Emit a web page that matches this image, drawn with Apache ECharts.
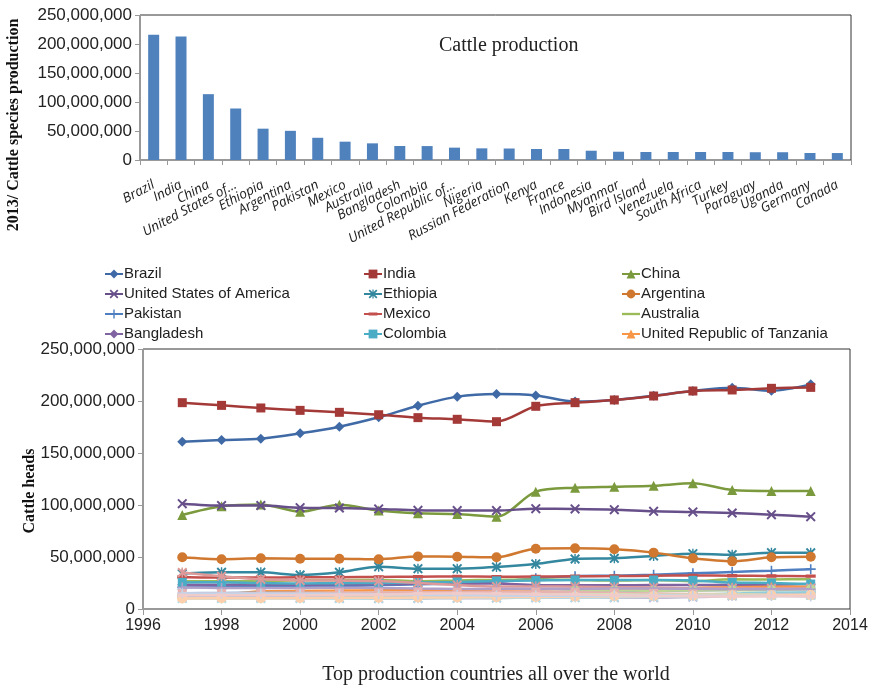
<!DOCTYPE html>
<html>
<head>
<meta charset="utf-8">
<script src="https://cdn.jsdelivr.net/npm/echarts@6/dist/echarts.min.js"></script>
<style>
  html, body { margin: 0; padding: 0; background: #fff; }
  #chart { width: 877px; height: 687px; }
</style>
</head>
<body>
<div id="chart"></div>
<script>
// ---- 2013 cattle stock by country (bar chart) ----
const barCategories = ['Brazil', 'India', 'China', 'United States of...', 'Ethiopia', 'Argentina',
  'Pakistan', 'Mexico', 'Australia', 'Bangladesh', 'Colombia', 'United Republic of...', 'Nigeria',
  'Russian Federation', 'Kenya', 'France', 'Indonesia', 'Myanmar', 'Bird Island', 'Venezuela',
  'South Africa', 'Turkey', 'Paraguay', 'Uganda', 'Germany', 'Canada'];
const production2013 = [216.0, 213.1, 113.5, 88.8, 54.0, 50.3, 38.3, 31.6, 28.7, 24.1, 24.0, 21.3, 20.1,
  19.8, 19.0, 19.0, 16.0, 14.3, 13.8, 13.8, 13.8, 13.8, 13.4, 13.4, 12.1, 12.0]; // million heads

// ---- yearly cattle heads, million (line chart) ----
const years = [1997, 1998, 1999, 2000, 2001, 2002, 2003, 2004, 2005, 2006, 2007, 2008, 2009, 2010, 2011, 2012, 2013];
const countryNames = ['Brazil', 'India', 'China', 'United States of America', 'Ethiopia', 'Argentina',
  'Pakistan', 'Mexico', 'Australia', 'Bangladesh', 'Colombia', 'United Republic of Tanzania', 'Nigeria',
  'Russian Federation', 'Kenya', 'France', 'Indonesia', 'Myanmar', 'Bird Island', 'Venezuela',
  'South Africa', 'Turkey', 'Paraguay', 'Uganda', 'Germany', 'Canada'];

const brazil      = [160.9, 162.5, 163.8, 168.9, 175.3, 184.3, 195.5, 204.2, 206.7, 205.4, 199.4, 201.0, 205.1, 209.6, 212.8, 209.9, 216.0];
const india       = [198.4, 195.8, 193.3, 191.0, 189.1, 186.8, 184.0, 182.4, 180.1, 194.9, 198.4, 201.0, 204.8, 209.6, 210.6, 212.2, 213.1];
const china       = [90.4, 98.7, 100.6, 93.6, 100.3, 94.6, 92.0, 91.3, 88.8, 112.8, 116.7, 117.6, 118.6, 120.8, 114.4, 113.5, 113.5];
const usa         = [101.3, 99.4, 99.4, 97.4, 97.1, 96.2, 94.9, 94.6, 94.6, 96.5, 96.2, 95.5, 93.9, 93.3, 92.3, 90.7, 88.8];
const ethiopia    = [33.9, 35.3, 35.3, 32.7, 35.3, 40.7, 38.8, 38.8, 40.4, 43.3, 48.1, 48.7, 51.0, 53.2, 52.2, 54.2, 54.0];
const argentina   = [49.7, 47.8, 48.7, 48.4, 48.4, 47.8, 50.6, 50.3, 49.7, 58.0, 58.3, 57.4, 54.2, 48.7, 45.8, 49.7, 50.3];
const pakistan    = [20.8, 21.6, 22.0, 22.4, 22.0, 23.0, 23.8, 24.2, 26.0, 29.6, 31.6, 32.0, 33.0, 34.3, 35.6, 36.8, 38.3];
const mexico      = [30.8, 30.2, 30.3, 30.5, 30.6, 30.8, 31.0, 31.3, 31.0, 31.2, 31.5, 31.7, 32.0, 32.2, 32.0, 31.8, 31.6];
const australia   = [26.8, 26.6, 26.6, 27.6, 27.7, 27.9, 26.7, 27.5, 28.0, 28.4, 28.0, 27.3, 27.9, 26.7, 28.5, 28.4, 28.7];
const bangladesh  = [23.2, 23.4, 23.6, 23.4, 23.8, 24.0, 24.2, 24.3, 24.5, 22.9, 22.9, 22.9, 23.0, 23.1, 23.2, 23.4, 24.1];
const colombia    = [25.6, 25.8, 25.0, 24.6, 24.8, 25.0, 25.5, 26.0, 27.0, 27.5, 28.0, 27.8, 27.9, 27.5, 25.5, 25.0, 24.0];
const tanzania    = [13.9, 14.0, 17.0, 17.4, 17.7, 18.0, 18.2, 18.4, 18.5, 18.8, 19.1, 19.4, 19.8, 20.3, 21.0, 21.3, 21.3];
const nigeria     = [15.2, 15.4, 15.6, 15.7, 15.2, 15.3, 15.4, 15.7, 16.0, 16.3, 16.6, 16.9, 17.3, 17.8, 18.5, 19.3, 20.1];
const russia      = [35.1, 31.5, 28.5, 27.5, 27.3, 26.9, 25.1, 23.0, 21.6, 21.6, 21.5, 21.0, 20.7, 20.0, 20.1, 19.9, 19.8];
const kenya       = [13.4, 13.4, 12.9, 13.0, 11.9, 12.5, 13.0, 13.4, 13.8, 12.9, 17.5, 17.9, 17.5, 17.9, 18.0, 18.3, 19.0];
const france      = [20.7, 20.3, 20.2, 20.3, 20.5, 20.2, 19.6, 19.3, 19.4, 19.5, 19.3, 19.6, 19.6, 19.5, 19.0, 19.0, 19.0];
const indonesia   = [11.9, 11.6, 12.0, 11.0, 11.1, 11.3, 10.5, 11.0, 10.6, 10.9, 11.5, 12.3, 12.8, 13.6, 14.8, 15.9, 16.0];
const myanmar     = [10.5, 10.6, 10.7, 10.9, 11.0, 11.1, 11.3, 11.6, 12.0, 12.5, 12.8, 13.1, 13.3, 13.6, 13.9, 14.1, 14.3];
const birdIsland  = [11.0, 11.2, 11.5, 11.8, 12.0, 12.2, 12.5, 12.7, 12.9, 13.0, 13.2, 13.4, 13.5, 13.6, 13.7, 13.8, 13.8];
const venezuela   = [14.8, 15.0, 15.2, 15.4, 15.6, 15.7, 16.0, 16.2, 16.5, 16.3, 16.0, 15.5, 15.0, 14.5, 14.2, 14.0, 13.8];
const southAfrica = [13.7, 13.8, 13.6, 13.6, 13.5, 13.6, 13.5, 13.5, 13.5, 13.6, 13.9, 14.2, 13.8, 13.8, 13.9, 13.8, 13.8];
const turkey      = [11.2, 11.0, 11.0, 10.8, 10.5, 10.2, 10.2, 10.3, 10.5, 10.9, 11.0, 10.9, 10.7, 11.4, 12.4, 13.6, 13.8];
const paraguay    = [10.0, 10.0, 10.1, 10.0, 10.0, 10.2, 10.4, 10.6, 10.8, 10.9, 11.0, 11.2, 11.7, 12.3, 13.0, 13.4, 13.4];
const uganda      = [10.2, 10.3, 10.4, 10.5, 10.7, 10.8, 11.0, 11.1, 11.3, 11.6, 11.9, 12.2, 12.5, 12.8, 13.0, 13.2, 13.4];
const germany     = [15.2, 14.9, 14.9, 14.6, 14.5, 14.2, 13.7, 13.4, 13.0, 12.7, 12.7, 12.9, 13.0, 12.8, 12.5, 12.5, 12.1];
const canada      = [13.2, 13.2, 13.2, 13.2, 13.6, 13.8, 14.7, 14.9, 14.7, 14.2, 13.9, 13.2, 12.6, 12.2, 12.0, 12.2, 12.0];

const countrySeries = [brazil, india, china, usa, ethiopia, argentina, pakistan, mexico, australia,
  bangladesh, colombia, tanzania, nigeria, russia, kenya, france, indonesia, myanmar, birdIsland,
  venezuela, southAfrica, turkey, paraguay, uganda, germany, canada];

// colour families, one shade per pass through the six families
const colorFamilies = [
  ['#3F6AA6', '#4F7FC1', '#8EAED8', '#A9C1E2', '#C3D3EA'],
  ['#A33A38', '#C4504D', '#DE9A98', '#E6B3B2', '#EFCBCA'],
  ['#7B9A3D', '#9BBB59', '#C0D696', '#D2E2B4', '#DFEACB'],
  ['#674F8A', '#8064A2', '#B1A0C7', '#C4B8D6', '#D6CEE3'],
  ['#33879E', '#4BACC6', '#92CDDC', '#B0DBE6', '#C8E6EE'],
  ['#D0782F', '#F79646', '#FAC08F', '#FCD0AC', '#FDDFC6']
];

// marker cycle: diamond, square, triangle, x, asterisk, circle, plus, dash, none
const X_PATH = 'path://M0,1.4 L1.4,0 L5,3.6 L8.6,0 L10,1.4 L6.4,5 L10,8.6 L8.6,10 L5,6.4 L1.4,10 L0,8.6 L3.6,5 Z';
const STAR_PATH = X_PATH + ' M4.3,0 L5.7,0 L5.7,10 L4.3,10 Z';
const PLUS_PATH = 'path://M4.2,0 L5.8,0 L5.8,4.2 L10,4.2 L10,5.8 L5.8,5.8 L5.8,10 L4.2,10 L4.2,5.8 L0,5.8 L0,4.2 L4.2,4.2 Z';
// flat bar kept inside a square box by two hair-thin slivers at top and bottom
const DASH_PATH = 'path://M0,3.3 L10,3.3 L10,6.7 L0,6.7 Z M5,0 L5.02,0 L5.02,0.02 Z M5,10 L5.02,10 L5.02,9.98 Z';
const markerCycle = ['diamond', 'rect', 'triangle', X_PATH, STAR_PATH, 'circle', PLUS_PATH, DASH_PATH, 'none'];
const markerSizes = [10, 9, 10, 10, 10, 10, 10, 10, 0];
const PLAIN_LINE_ICON = 'path://M0,0 L20,0 L20,2.6 L0,2.6 Z';

const sansFont = 'Liberation Sans, Arial, sans-serif';
const serifFont = 'Liberation Serif, Times New Roman, serif';
const withCommas = v => Math.round(v).toString().replace(/\B(?=(\d{3})+(?!\d))/g, ',');
const seriesColor = i => colorFamilies[i % 6][Math.floor(i / 6)];

const lineSeries = countrySeries.map((vals, i) => {
  const color = seriesColor(i);
  return {
    type: 'line',
    name: countryNames[i],
    xAxisIndex: 1,
    yAxisIndex: 1,
    data: years.map((y, k) => [y, vals[k] * 1e6]),
    smooth: 0.3,
    symbol: markerCycle[i % 9],
    symbolSize: markerSizes[i % 9],
    showSymbol: markerCycle[i % 9] !== 'none',
    lineStyle: { width: 2.5, color: color },
    itemStyle: { color: color },
    z: 2 + i * 0.01
  };
});

const legendCols = [
  [0, 3, 6, 9],
  [1, 4, 7, 10],
  [2, 5, 8, 11]
];
const legendLefts = [104, 363, 621];

const axisGray = '#9a9a9a';

const option = {
  animation: false,
  backgroundColor: '#fff',
  grid: [
    { left: 140, right: 26, top: 15, bottom: 527, show: true, borderColor: '#333', borderWidth: 1 },
    { left: 143, right: 27, top: 349, bottom: 78, show: true, borderColor: '#333', borderWidth: 1 }
  ],
  title: {
    text: 'Cattle production',
    left: 434, top: 31,
    textStyle: { fontFamily: serifFont, fontWeight: 'normal', fontSize: 20, color: '#222' }
  },
  legend: legendCols.map((col, c) => ({
    orient: 'vertical',
    left: legendLefts[c],
    top: 266,
    padding: 0,
    itemWidth: 18,
    itemHeight: 11,
    itemGap: 4,
    data: col.map(i => markerCycle[i % 9] === 'none'
      ? { name: countryNames[i], icon: PLAIN_LINE_ICON }
      : countryNames[i]),
    textStyle: { fontFamily: sansFont, fontSize: 15, lineHeight: 16, color: '#222', padding: [0, 0, 0, -4] }
  })),
  xAxis: [
    {
      type: 'category',
      gridIndex: 0,
      data: barCategories,
      axisLine: { lineStyle: { color: axisGray } },
      axisTick: { show: true, alignWithLabel: false, length: 5, lineStyle: { color: axisGray } },
      axisLabel: {
        interval: 0, rotate: 28, margin: 24,
        fontFamily: 'Open Sans, Liberation Sans, sans-serif', fontStyle: 'italic',
        fontSize: 13.5, color: '#222'
      }
    },
    {
      type: 'value',
      gridIndex: 1,
      min: 1996, max: 2014, interval: 2,
      axisLine: { show: true, lineStyle: { color: axisGray } },
      axisTick: { show: true, length: 6, lineStyle: { color: axisGray } },
      splitLine: { show: false },
      axisLabel: { formatter: v => String(v), fontFamily: sansFont, fontSize: 16, color: '#222', margin: 9 }
    }
  ],
  yAxis: [
    {
      type: 'value',
      gridIndex: 0,
      min: 0, max: 250e6, interval: 50e6,
      axisLine: { show: true, lineStyle: { color: axisGray } },
      axisTick: { show: true, length: 5, lineStyle: { color: axisGray } },
      splitLine: { show: false },
      axisLabel: { formatter: withCommas, fontFamily: sansFont, fontSize: 17, color: '#222', margin: 8 }
    },
    {
      type: 'value',
      gridIndex: 1,
      min: 0, max: 250e6, interval: 50e6,
      axisLine: { show: true, lineStyle: { color: axisGray } },
      axisTick: { show: true, length: 5, lineStyle: { color: axisGray } },
      splitLine: { show: false },
      axisLabel: { formatter: withCommas, fontFamily: sansFont, fontSize: 17, color: '#222', margin: 8 }
    }
  ],
  graphic: [
    {
      type: 'text', x: 14, y: 125, rotation: Math.PI / 2,
      style: { text: '2013/ Cattle species production', font: 'bold 16px ' + serifFont, fill: '#111', align: 'center', verticalAlign: 'middle' }
    },
    {
      type: 'text', x: 30, y: 491, rotation: Math.PI / 2,
      style: { text: 'Cattle heads', font: 'bold 16px ' + serifFont, fill: '#111', align: 'center', verticalAlign: 'middle' }
    },
    {
      type: 'text', x: 496, y: 675,
      style: { text: 'Top production countries all over the world', font: '20px ' + serifFont, fill: '#222', align: 'center', verticalAlign: 'middle' }
    }
  ],
  series: [
    {
      type: 'bar',
      name: '2013',
      xAxisIndex: 0,
      yAxisIndex: 0,
      data: production2013.map(v => v * 1e6),
      barWidth: 11,
      itemStyle: { color: '#4F81BD' }
    }
  ].concat(lineSeries)
};

const chart = echarts.init(document.getElementById('chart'), null, { renderer: 'canvas' });
chart.setOption(option);
</script>
</body>
</html>
